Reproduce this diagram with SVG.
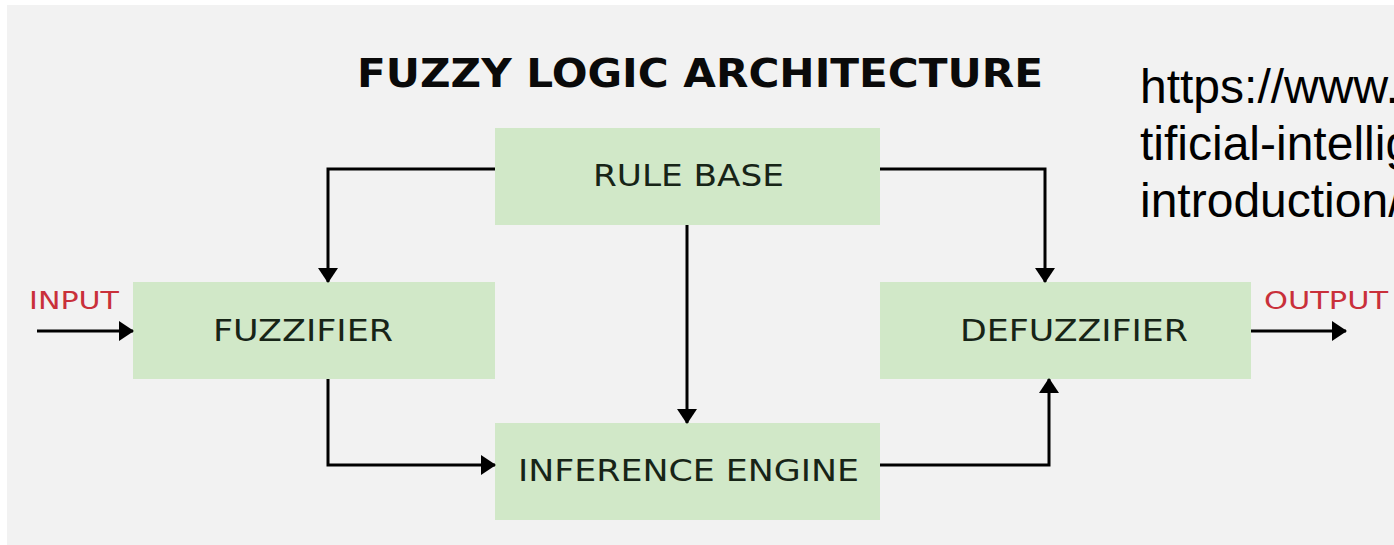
<svg xmlns="http://www.w3.org/2000/svg" width="1394" height="545" viewBox="0 0 1394 545">
  <defs>
    <marker id="arrow" viewBox="0 0 15 20" refX="14" refY="10" markerWidth="15" markerHeight="20" markerUnits="userSpaceOnUse" orient="auto">
      <path d="M0,0 L15,10 L0,20 Z" fill="#000"/>
    </marker>
    <style>
      .box { fill: #d1e8c8; }
      .label { font-family: "DejaVu Sans", "Noto Sans", sans-serif; font-size: 31px; fill: #172417; }
      .io { font-family: "DejaVu Sans", "Noto Sans", sans-serif; font-size: 25.5px; fill: #c9303a; }
      .title { font-family: "DejaVu Sans", "Noto Sans", sans-serif; font-size: 38.5px; font-weight: 700; fill: #0a0a0a; }
      .url { font-family: "Liberation Sans", Arial, sans-serif; font-size: 48px; fill: #000; }
      .wire { fill: none; stroke: #000; stroke-width: 3; }
    </style>
  </defs>

  <!-- canvas -->
  <rect x="0" y="0" width="1394" height="545" fill="#ffffff"/>
  <rect x="7" y="5" width="1387" height="540" fill="#f2f2f2"/>

  <text class="title" x="357" y="87" textLength="686" lengthAdjust="spacingAndGlyphs">FUZZY LOGIC ARCHITECTURE</text>

  <g id="source-link" class="url">
    <text x="1140" y="103">https://www.</text>
    <text x="1140" y="160">tificial-intellig</text>
    <text x="1140" y="217">introduction/</text>
  </g>

  <g id="rule-base">
    <rect class="box" x="495" y="128" width="385" height="97"/>
    <text class="label" x="593" y="186" textLength="191" lengthAdjust="spacingAndGlyphs">RULE BASE</text>
  </g>

  <g id="fuzzifier">
    <rect class="box" x="133" y="282" width="362" height="97"/>
    <text class="label" x="213" y="341" textLength="180" lengthAdjust="spacingAndGlyphs">FUZZIFIER</text>
  </g>

  <g id="inference-engine">
    <rect class="box" x="495" y="423" width="385" height="97"/>
    <text class="label" x="518" y="481" textLength="341" lengthAdjust="spacingAndGlyphs">INFERENCE ENGINE</text>
  </g>

  <g id="defuzzifier">
    <rect class="box" x="880" y="282" width="371" height="97"/>
    <text class="label" x="960" y="341" textLength="228" lengthAdjust="spacingAndGlyphs">DEFUZZIFIER</text>
  </g>

  <g id="input">
    <text class="io" x="29" y="309" textLength="90" lengthAdjust="spacingAndGlyphs">INPUT</text>
  </g>

  <g id="output">
    <text class="io" x="1264" y="309" textLength="124" lengthAdjust="spacingAndGlyphs">OUTPUT</text>
  </g>

  <g id="connectors" class="wire" marker-end="url(#arrow)">
    <path d="M37,331 H133"/>
    <path d="M495,169 H328 V282"/>
    <path d="M880,169 H1045 V282"/>
    <path d="M687,225 V423"/>
    <path d="M328,379 V465 H495"/>
    <path d="M880,465 H1049 V379"/>
    <path d="M1251,331 H1346"/>
  </g>
</svg>
